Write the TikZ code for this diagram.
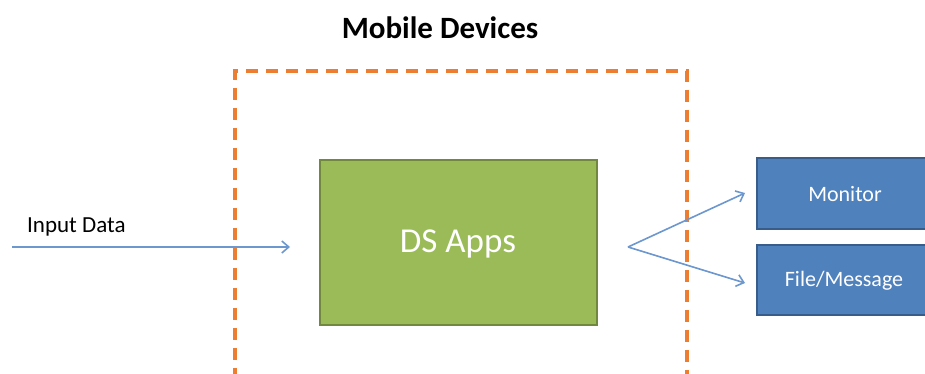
\documentclass[tikz,border=0pt]{standalone}
\usepackage{fontspec}
\setmainfont{Carlito}
\usetikzlibrary{arrows.meta}
\definecolor{dsorange}{HTML}{ED7D31}
\definecolor{dsgreen}{HTML}{9BBB59}
\definecolor{dsgreenedge}{HTML}{71893F}
\definecolor{dsblue}{HTML}{4F81BD}
\definecolor{dsblueedge}{HTML}{385D8A}
\definecolor{dsarrow}{HTML}{6C98CF}
\begin{document}
\begin{tikzpicture}[x=1pt,y=-1pt,
  appbox/.style={draw=dsgreenedge,line width=1.8pt,fill=dsgreen},
  outbox/.style={draw=dsblueedge,line width=1.5pt,fill=dsblue},
  boxtext/.style={text=white,font=\fontsize{22}{26}\selectfont},
  flow/.style={draw=dsarrow,line width=1.6pt,-{Straight Barb[length=7pt,width=12pt]}},
  region/.style={draw=dsorange,line width=3.4pt,dash pattern=on 12pt off 8pt}]
\clip (0,0) rectangle (925,374);
\fill[white] (0,0) rectangle (925,374);

% mobile device boundary, open at the bottom
\draw[region] (235,380) -- (235,71) -- (687,71) -- (687,380);
\node[font=\bfseries\fontsize{31}{36}\selectfont] (title) at (440,28) {Mobile Devices};

% application and output boxes
\draw[appbox] (320,160) rectangle (597,325);
\node[text=white,font=\fontsize{35}{40}\selectfont] (apps) at (458,244) {DS Apps};
\draw[outbox] (757,158) rectangle (935,229);
\node[boxtext] (monitor) at (845,194) {Monitor};
\draw[outbox] (757,245) rectangle (935,315);
\node[boxtext] (filemsg) at (844,281) {File/Message};

% connectors
\node[font=\fontsize{23}{27}\selectfont,anchor=west,inner sep=0pt] (inlabel) at (27,227) {Input Data};
\coordinate (instart) at (12,247);
\coordinate (inend) at (290,247);
\coordinate (fork) at (628,247);
\coordinate (monin) at (745,193);
\coordinate (filein) at (745,283);
\draw[flow] (instart) -- (inend);
\draw[flow] (fork) -- (monin);
\draw[flow] (fork) -- (filein);
\end{tikzpicture}
\end{document}
